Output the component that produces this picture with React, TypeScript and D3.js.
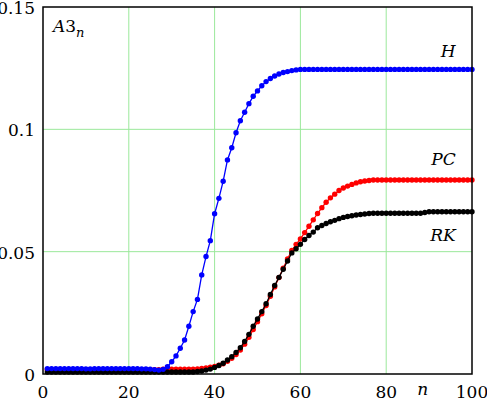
import React, { useRef, useEffect } from "react";
import * as d3 from "d3";

// A3_n for n = 1..100, three integrators
const seriesH = [
  0.0022, 0.0022, 0.0022, 0.0022, 0.0022, 0.0022, 0.0022, 0.0022, 0.0022, 0.0021,
  0.0021, 0.0022, 0.0022, 0.0022, 0.0022, 0.0022, 0.0022, 0.0022, 0.0022, 0.0022,
  0.0022, 0.0022, 0.0021, 0.0021, 0.0020, 0.0018, 0.0016, 0.0019, 0.0030, 0.0050,
  0.0074, 0.0105, 0.0139, 0.0195, 0.0255, 0.0305, 0.0405, 0.0480, 0.0545, 0.0655,
  0.0718, 0.0788, 0.0875, 0.0925, 0.0986, 0.1035, 0.1070, 0.1105, 0.1135, 0.1157,
  0.1178, 0.1195, 0.1208, 0.1218, 0.1226, 0.1232, 0.1236, 0.1240, 0.1243, 0.1245,
  0.1245, 0.1245, 0.1245, 0.1245, 0.1245, 0.1245, 0.1245, 0.1245, 0.1245, 0.1245,
  0.1245, 0.1245, 0.1245, 0.1245, 0.1245, 0.1245, 0.1245, 0.1245, 0.1245, 0.1245,
  0.1245, 0.1245, 0.1245, 0.1245, 0.1245, 0.1245, 0.1245, 0.1245, 0.1245, 0.1245,
  0.1245, 0.1245, 0.1245, 0.1245, 0.1245, 0.1245, 0.1245, 0.1245, 0.1245, 0.1245,
];

const seriesPC = [
  0.0018, 0.0018, 0.0018, 0.0018, 0.0018, 0.0018, 0.0018, 0.0018, 0.0018, 0.0018,
  0.0018, 0.0018, 0.0018, 0.0018, 0.0018, 0.0018, 0.0018, 0.0018, 0.0018, 0.0018,
  0.0018, 0.0018, 0.0018, 0.0018, 0.0018, 0.0018, 0.0018, 0.0020, 0.0020, 0.0020,
  0.0020, 0.0020, 0.0020, 0.0020, 0.0020, 0.0021, 0.0023, 0.0025, 0.0028, 0.0031,
  0.0036, 0.0042, 0.0052, 0.0064, 0.0080, 0.0098, 0.0122, 0.0150, 0.0182, 0.0214,
  0.0246, 0.0280, 0.0318, 0.0356, 0.0394, 0.0432, 0.0470, 0.0505, 0.0530, 0.0552,
  0.0578, 0.0604, 0.0630, 0.0656, 0.0680, 0.0702, 0.0720, 0.0735, 0.0750, 0.0760,
  0.0768, 0.0775, 0.0781, 0.0786, 0.0789, 0.0791, 0.0793, 0.0793, 0.0793, 0.0793,
  0.0793, 0.0793, 0.0793, 0.0793, 0.0793, 0.0793, 0.0793, 0.0793, 0.0793, 0.0793,
  0.0793, 0.0793, 0.0793, 0.0793, 0.0793, 0.0793, 0.0793, 0.0793, 0.0793, 0.0793,
];

const seriesRK = [
  0.0008, 0.0008, 0.0008, 0.0008, 0.0008, 0.0008, 0.0008, 0.0008, 0.0008, 0.0008,
  0.0008, 0.0008, 0.0008, 0.0008, 0.0008, 0.0008, 0.0008, 0.0008, 0.0008, 0.0008,
  0.0008, 0.0008, 0.0008, 0.0008, 0.0008, 0.0008, 0.0008, 0.0008, 0.0008, 0.0008,
  0.0008, 0.0008, 0.0008, 0.0008, 0.0008, 0.0010, 0.0012, 0.0016, 0.0020, 0.0027,
  0.0035, 0.0044, 0.0057, 0.0071, 0.0088, 0.0107, 0.0133, 0.0162, 0.0195, 0.0225,
  0.0255, 0.0287, 0.0325, 0.0362, 0.0395, 0.0428, 0.0462, 0.0495, 0.0512, 0.0530,
  0.0550, 0.0566, 0.0580, 0.0598, 0.0607, 0.0615, 0.0622, 0.0628, 0.0635, 0.0640,
  0.0644, 0.0647, 0.0650, 0.0652, 0.0654, 0.0656, 0.0657, 0.0657, 0.0657, 0.0657,
  0.0657, 0.0657, 0.0657, 0.0657, 0.0657, 0.0657, 0.0657, 0.0657, 0.0660, 0.0663,
  0.0663, 0.0663, 0.0663, 0.0663, 0.0663, 0.0663, 0.0663, 0.0663, 0.0663, 0.0663,
];

const xTicks = [0, 20, 40, 60, 80, 100];
const yTicks = [0, 0.05, 0.1, 0.15];
const yTickLabels = ["0", "0.05", "0.1", "0.15"];

const series = [
  { name: "PC", values: seriesPC, color: "#ff0000", labelN: 96.2, labelV: 0.0855 },
  { name: "RK", values: seriesRK, color: "#000000", labelN: 96.2, labelV: 0.0545 },
  { name: "H", values: seriesH, color: "#0000ff", labelN: 96.2, labelV: 0.1295 },
];

const W = 487, H = 398;
const FONT = "DejaVu Serif, Liberation Serif, serif";
const FS = 17;

const App = () => {
  const svgRef = useRef<SVGSVGElement>(null);

  useEffect(() => {
    const svg = d3.select(svgRef.current).attr("width", W).attr("height", H);
    svg.selectAll("*").remove();

    const left = 43, right = 472, top = 7, bottom = 374;
    const x = d3.scaleLinear().domain([0, 100]).range([left, right]);
    const y = d3.scaleLinear().domain([0, 0.15]).range([bottom, top]);

    svg.append("rect").attr("width", W).attr("height", H).attr("fill", "#fff");

    // grid
    svg.selectAll("line.gx")
      .data(xTicks.filter(t => t > 0 && t < 100))
      .join("line")
      .attr("class", "gx")
      .attr("x1", d => x(d)).attr("x2", d => x(d))
      .attr("y1", top).attr("y2", bottom)
      .attr("stroke", "#9be89b").attr("stroke-width", 1);
    svg.selectAll("line.gy")
      .data(yTicks.filter(t => t > 0 && t < 0.15))
      .join("line")
      .attr("class", "gy")
      .attr("x1", left).attr("x2", right)
      .attr("y1", d => y(d)).attr("y2", d => y(d))
      .attr("stroke", "#9be89b").attr("stroke-width", 1);

    const line = d3.line<number>()
      .x((_, i) => x(i + 1))
      .y(d => y(d));

    series.forEach(s => {
      const g = svg.append("g");
      g.append("path")
        .attr("d", line(s.values))
        .attr("fill", "none")
        .attr("stroke", s.color)
        .attr("stroke-width", 1.3);
      g.selectAll("circle")
        .data(s.values)
        .join("circle")
        .attr("cx", (_, i) => x(i + 1))
        .attr("cy", d => y(d))
        .attr("r", 2.7)
        .attr("fill", s.color);
    });

    // frame
    svg.append("rect")
      .attr("x", left).attr("y", top)
      .attr("width", right - left).attr("height", bottom - top)
      .attr("fill", "none").attr("stroke", "#000").attr("stroke-width", 1.5);

    // tick labels
    svg.selectAll("text.xt")
      .data(xTicks)
      .join("text")
      .attr("class", "xt")
      .attr("x", d => x(d))
      .attr("y", bottom + 18)
      .attr("text-anchor", "middle")
      .attr("dominant-baseline", "central")
      .attr("font-family", FONT)
      .attr("font-size", FS)
      .text(d => String(d));

    svg.selectAll("text.yt")
      .data(yTicks)
      .join("text")
      .attr("class", "yt")
      .attr("x", left - 8)
      .attr("y", d => y(d) + 1)
      .attr("text-anchor", "end")
      .attr("dominant-baseline", "central")
      .attr("font-family", FONT)
      .attr("font-size", FS)
      .text((_, i) => yTickLabels[i]);

    // axis name n
    svg.append("text")
      .attr("x", x(88.5))
      .attr("y", bottom + 15)
      .attr("text-anchor", "middle")
      .attr("dominant-baseline", "central")
      .attr("font-family", FONT)
      .attr("font-style", "italic")
      .attr("font-size", FS)
      .text("n");

    // title A3_n
    const t = svg.append("text")
      .attr("x", left + 10)
      .attr("y", top + 25)
      .attr("font-family", FONT)
      .attr("font-size", FS);
    t.append("tspan").attr("font-style", "italic").text("A");
    t.append("tspan").text("3");
    t.append("tspan").attr("font-style", "italic").attr("font-size", 13).attr("dy", 5).text("n");

    // series labels
    svg.selectAll("text.sl")
      .data(series)
      .join("text")
      .attr("class", "sl")
      .attr("x", d => x(d.labelN))
      .attr("y", d => y(d.labelV))
      .attr("text-anchor", "end")
      .attr("font-family", FONT)
      .attr("font-style", "italic")
      .attr("font-size", FS)
      .text(d => d.name);
  }, []);

  return <svg ref={svgRef} style={{ position: "absolute", left: 0, top: 0 }}></svg>;
};

export default App;
